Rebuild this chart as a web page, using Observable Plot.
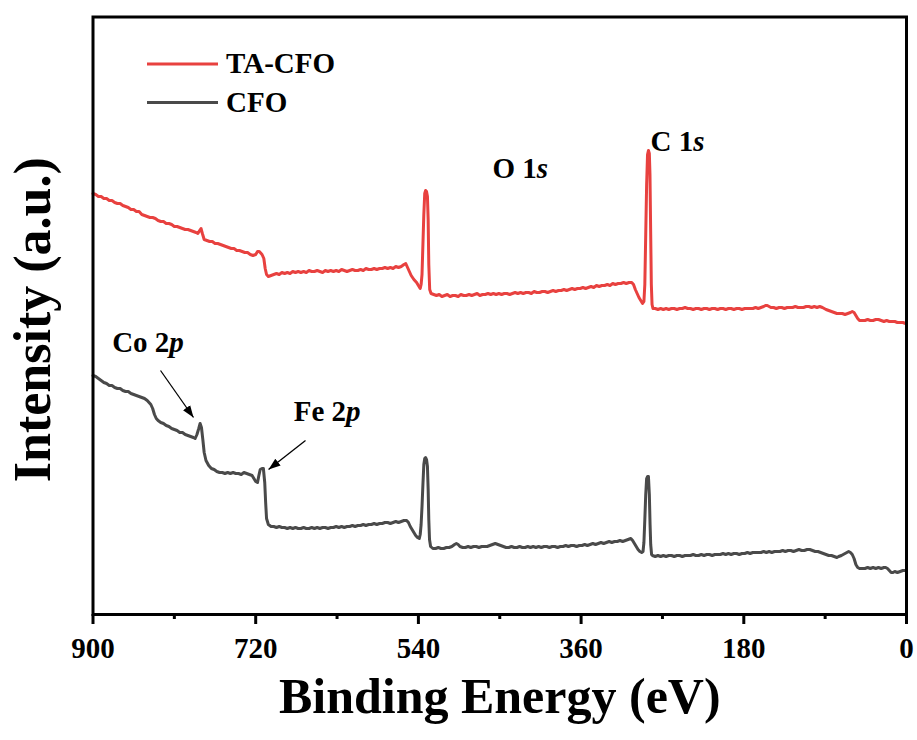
<!DOCTYPE html>
<html>
<head>
<meta charset="utf-8">
<script src="https://cdn.jsdelivr.net/npm/d3@7"></script>
<script src="https://cdn.jsdelivr.net/npm/@observablehq/plot@0.6"></script>
<style>
  html, body { margin: 0; padding: 0; background: #fff; }
  #chart { width: 917px; height: 740px; }
</style>
</head>
<body>
<div id="chart"></div>
<script>
// ---------- data ----------
const seriesNames = ["TA-CFO", "CFO"];
const seriesColors = ["#e8413f", "#4a4a4a"];
const majorTicks = [900, 720, 540, 360, 180, 0];
const minorTicks = [810, 630, 450, 270, 90];

// [binding energy (eV), intensity (a.u.)]
const taCfoSpectrum = [
[900,421],[897,420],[894,418],[891,418],[888,416],[885,416],[882,414],[879,414],[876,412],[873,411],
[870,411],[867,409],[864,408],[861,407],[858,405],[855,405],[852,403],[849,403],[846,400],[843,399],
[840,398],[837,397],[834,397],[831,396],[828,394],[825,393],[822,393],[819,391],[816,391],[813,390],
[810,388],[807,388],[804,387],[801,386],[798,385],[795,385],[792,384],[789,383],[786,382],[784,381],
[782,384],[780.5,386],[779,381],[777,375],[774,374],[771,373],[768,373],[765,371],[762,371],[759,370],
[756,369],[753,368],[750,367],[747,366],[744,366],[741,364],[738,364],[735,363],[732,362],[729,362],
[726,360],[723,359],[720,360],[718,363],[716,363],[713,360],[711,356],[709.5,346],[708,340],[706,338],
[703,339],[700,340],[697,341],[694,340],[691,342],[688,341],[685,342],[682,341],[679,343],[676,342],
[673,343],[670,342],[667,343],[664,342],[661,344],[658,343],[655,343],[652,344],[649,343],[646,342],
[643,344],[640,343],[637,344],[634,343],[631,344],[628,343],[625,345],[622,344],[619,343],[616,344],
[613,345],[610,344],[607,344],[604,345],[601,344],[598,346],[595,345],[592,345],[589,346],[586,345],
[583,346],[580,346],[577,347],[574,346],[571,347],[568,346],[565,348],[562,347],[559,348],[556,350],
[554,351],[552,347],[550,343],[548,339],[545,335],[542,332],[540,329],[538,326],[537,330],[536,340],
[535,370],[534,400],[533,421],[532,424],[531,423],[530,418],[529.2,395],[528.5,350],[527.5,325],[526,321],
[523,320],[520,319],[517,320],[514,318],[511,319],[508,320],[505,318],[502,319],[499,319],[496,318],
[493,320],[490,319],[487,319],[484,320],[481,319],[478,320],[475,321],[472,319],[469,320],[466,320],
[463,321],[460,320],[457,321],[454,320],[451,321],[448,320],[445,321],[442,321],[439,320],[436,321],
[433,322],[430,321],[427,322],[424,321],[421,322],[418,322],[415,321],[412,323],[409,322],[406,322],
[403,323],[400,323],[397,322],[394,323],[391,324],[388,323],[385,324],[382,324],[379,325],[376,324],
[373,325],[370,326],[367,325],[364,326],[361,326],[358,327],[355,326],[352,327],[349,328],[346,327],
[343,329],[340,328],[337,329],[334,329],[331,330],[328,329],[325,331],[322,330],[319,331],[316,331],
[313,332],[310,331],[307,332],[304,332],[302,330],[300,325],[298,321],[296,317],[294,314],[292,311],
[290.5,313],[289.5,330],[288.5,380],[287.5,430],[286.5,460],[285.5,464],[284.5,461],[283.8,440],[283,380],[282.3,330],
[281.5,310],[280.5,306],[278,306],[275,305],[272,306],[269,305],[266,306],[263,305],[260,306],[257,306],
[254,305],[251,306],[248,306],[245,307],[242,306],[239,306],[236,305],[233,306],[230,306],[227,305],
[224,306],[221,306],[218,305],[215,306],[212,306],[209,305],[206,306],[203,306],[200,305],[197,306],
[194,306],[191,305],[188,306],[185,306],[182,305],[179,306],[176,306],[173,306],[170,306],[167,307],
[164,306],[161,307],[158,308],[156,309],[154,309],[152,308],[150,307],[147,307],[144,306],[141,307],
[138,307],[135,306],[132,307],[129,307],[126,307],[123,308],[120,307],[117,307],[114,307],[111,308],
[108,308],[105,307],[102,308],[99,307],[96,308],[93,307],[91,306],[89,305],[86,304],[83,303],
[80,302],[77,301],[74,301],[71,301],[68,300],[65,301],[62,302],[60,303],[58,302],[56,299],
[54,296],[52,294],[49,294],[46,294],[43,295],[40,294],[37,294],[34,295],[31,295],[28,294],
[25,293],[22,294],[19,293],[16,293],[13,293],[10,292],[7,292],[4,292],[1,291],[0,292]
];

const cfoSpectrum = [
[900,239],[897,238],[894,236],[891,234],[888,232],[885,231],[882,229],[879,229],[876,227],[873,226],
[870,226],[867,224],[864,223],[861,223],[858,221],[855,220],[852,219],[849,218],[846,217],[843,216],
[840,214],[838,212],[836,210],[834,206],[832,200],[830,196],[828,194],[825,192],[822,191],[819,189],
[816,188],[813,186],[810,185],[807,184],[804,182],[801,182],[798,180],[795,179],[792,178],[789,177],
[787,176],[785,180],[783,186],[781.5,191],[780,187],[778.5,175],[777,162],[775,154],[772,149],[769,146],
[766,145],[763,143],[760,142],[757,142],[754,141],[751,142],[748,141],[745,142],[742,141],[739,141],
[736,140],[733,142],[730,141],[727,140],[724,139],[722,136],[720,133],[718,132],[716.5,139],[715,145],
[713,146],[711.5,146],[710,132],[709,112],[708,96],[706,90],[703,88],[700,88],[697,87],[694,88],
[691,87],[688,87],[685,86],[682,87],[679,86],[676,87],[673,86],[670,86],[667,87],[664,86],
[661,86],[658,87],[655,86],[652,87],[649,86],[646,87],[643,87],[640,86],[637,87],[634,87],
[631,88],[628,87],[625,88],[622,87],[619,88],[616,88],[613,89],[610,88],[607,89],[604,89],
[601,90],[598,89],[595,90],[592,90],[589,91],[586,90],[583,91],[580,91],[577,92],[574,92],
[571,91],[568,92],[565,93],[562,92],[559,93],[556,94],[553,94],[551,92],[549,88],[547,85],
[545,82],[543,79],[541,77],[539,76],[538,80],[537,90],[536,108],[535,130],[534,150],[533,156],
[532,157],[531,155],[530,148],[529.2,125],[528.5,95],[527.7,75],[526.5,68],[524,66],[521,66],[518,67],
[515,66],[512,66],[509,67],[506,67],[503,68],[500,70],[498,71],[496,70],[494,68],[491,67],
[488,67],[485,68],[482,67],[479,68],[476,68],[473,67],[470,68],[467,68],[464,68],[461,69],
[458,70],[455,71],[452,70],[449,69],[446,68],[443,67],[440,67],[437,68],[434,67],[431,67],
[428,68],[425,67],[422,67],[419,68],[416,67],[413,68],[410,67],[407,68],[404,67],[401,68],
[398,68],[395,67],[392,68],[389,68],[386,67],[383,68],[380,68],[377,69],[374,68],[371,69],
[368,69],[365,68],[362,69],[359,69],[356,70],[353,69],[350,70],[347,71],[344,70],[341,71],
[338,72],[335,71],[332,72],[329,73],[326,72],[323,73],[320,73],[317,74],[314,73],[311,74],
[308,75],[305,76],[303,74],[301,71],[299,68],[297,65],[295,63],[293,62],[291.5,63],[290.5,72],
[289.5,95],[288.5,120],[287.5,136],[286.5,138],[285.5,138],[284.5,120],[283.7,90],[283,70],[282,60],[281,59],
[278,58],[275,59],[272,58],[269,59],[266,58],[263,59],[260,59],[257,58],[254,59],[251,59],
[248,58],[245,59],[242,59],[239,59],[236,60],[233,59],[230,59],[227,60],[224,59],[221,60],
[218,60],[215,59],[212,60],[209,60],[206,60],[203,61],[200,60],[197,61],[194,60],[191,61],
[188,61],[185,60],[182,61],[179,61],[176,62],[173,61],[170,62],[167,62],[164,62],[161,62],
[158,63],[155,62],[152,63],[149,62],[146,63],[143,63],[140,63],[137,64],[134,63],[131,64],
[128,64],[125,63],[122,64],[119,65],[116,64],[113,64],[110,65],[107,65],[104,64],[101,63],
[98,63],[95,62],[92,61],[89,60],[86,59],[83,59],[80,58],[77,57],[75,58],[72,59],
[70,60],[68,61],[66,62],[64,63],[62,62],[60,60],[58,56],[56,50],[54,47],[52,46],
[49,46],[46,46],[43,47],[40,46],[37,47],[34,46],[31,47],[28,46],[25,47],[23,47],
[21,46],[19,44],[17,42],[15,42],[13,43],[10,42],[7,43],[4,44],[1,44],[0,44]
];

// peak annotations: label, anchor energy, anchor intensity
const peakLabels = [
  {label: "O 1s",  energy: 458,   intensity: 446},
  {label: "C 1s",  energy: 283.2, intensity: 472.5},
  {label: "Co 2p", energy: 878.8, intensity: 271.5},
  {label: "Fe 2p", energy: 677.9, intensity: 203}
];
const annotationArrows = [
  {e1: 825.3, i1: 244, e2: 788.8, i2: 197},
  {e1: 664.9, i1: 174, e2: 705.8, i2: 145}
];

// ---------- chart ----------
const serif = "'Liberation Serif', 'Times New Roman', Times, serif";

const chart = Plot.plot({
  width: 917,
  height: 740,
  marginLeft: 92.5,
  marginRight: 11,
  marginTop: 16.5,
  marginBottom: 126,
  style: {fontFamily: serif, fontWeight: "bold", background: "#fff", color: "#000", overflow: "visible"},
  x: {domain: [900, 0]},
  y: {domain: [0, 597.5], axis: null},
  marks: [
    Plot.line(cfoSpectrum, {x: d => d[0], y: d => d[1], stroke: seriesColors[1], strokeWidth: 3, strokeLinejoin: "round"}),
    Plot.line(taCfoSpectrum, {x: d => d[0], y: d => d[1], stroke: seriesColors[0], strokeWidth: 3, strokeLinejoin: "round"}),
    Plot.axisX({ticks: majorTicks, tickSize: 10, tickPadding: 13, fontSize: 29, strokeWidth: 3, label: null, tickFormat: d => String(d)}),
    Plot.axisX({ticks: minorTicks, tickSize: 5, strokeWidth: 3, text: null, label: null}),
    Plot.frame({stroke: "#000", strokeWidth: 3}),
    Plot.text(peakLabels, {x: "energy", y: "intensity", text: "label", textAnchor: "start", fontSize: 29, fill: "#000"}),
    Plot.link(annotationArrows, {x1: "e1", y1: "i1", x2: "e2", y2: "i2", stroke: "#000", strokeWidth: 1.3}),
    Plot.text(["Binding Energy (eV)"], {frameAnchor: "bottom", text: d => d, dy: 98, fontSize: 50, fill: "#000"}),
    Plot.text(["Intensity (a.u.)"], {frameAnchor: "left", textAnchor: "middle", text: d => d, rotate: -90, dx: -60, dy: 4, fontSize: 52, fill: "#000"})
  ]
});

document.getElementById("chart").appendChild(chart);

const svg = d3.select(chart);

// italic orbital letters (first text mark = peak labels)
const textGroups = svg.selectAll('g[aria-label="text"]').nodes();
if (textGroups.length) {
  d3.select(textGroups[0]).selectAll("text").each(function() {
    const t = this.textContent;
    this.textContent = t.slice(0, -1);
    d3.select(this).append("tspan").attr("font-style", "italic").text(t.slice(-1));
  });
}

// filled arrowheads
const defs = svg.append("defs");
defs.append("marker")
  .attr("id", "ahead")
  .attr("viewBox", "0 -5 10 10")
  .attr("refX", 10).attr("refY", 0)
  .attr("markerWidth", 12).attr("markerHeight", 12)
  .attr("markerUnits", "userSpaceOnUse")
  .attr("orient", "auto")
  .append("path").attr("d", "M0,-3.6L10,0L0,3.6Z").attr("fill", "#000");
svg.selectAll('g[aria-label="link"] path').attr("marker-end", "url(#ahead)");

// legend (inside plot, top-left)
const legend = svg.append("g")
  .attr("font-family", serif).attr("font-weight", "bold").attr("font-size", 29)
  .attr("text-anchor", "start");
seriesNames.forEach((name, i) => {
  const cy = 64 + i * 38.5;
  legend.append("line").attr("x1", 147).attr("x2", 218).attr("y1", cy).attr("y2", cy)
    .attr("stroke", seriesColors[i]).attr("stroke-width", 3);
  legend.append("text").attr("x", 226).attr("y", cy + 9).attr("fill", "#000").text(name);
});
</script>
</body>
</html>
